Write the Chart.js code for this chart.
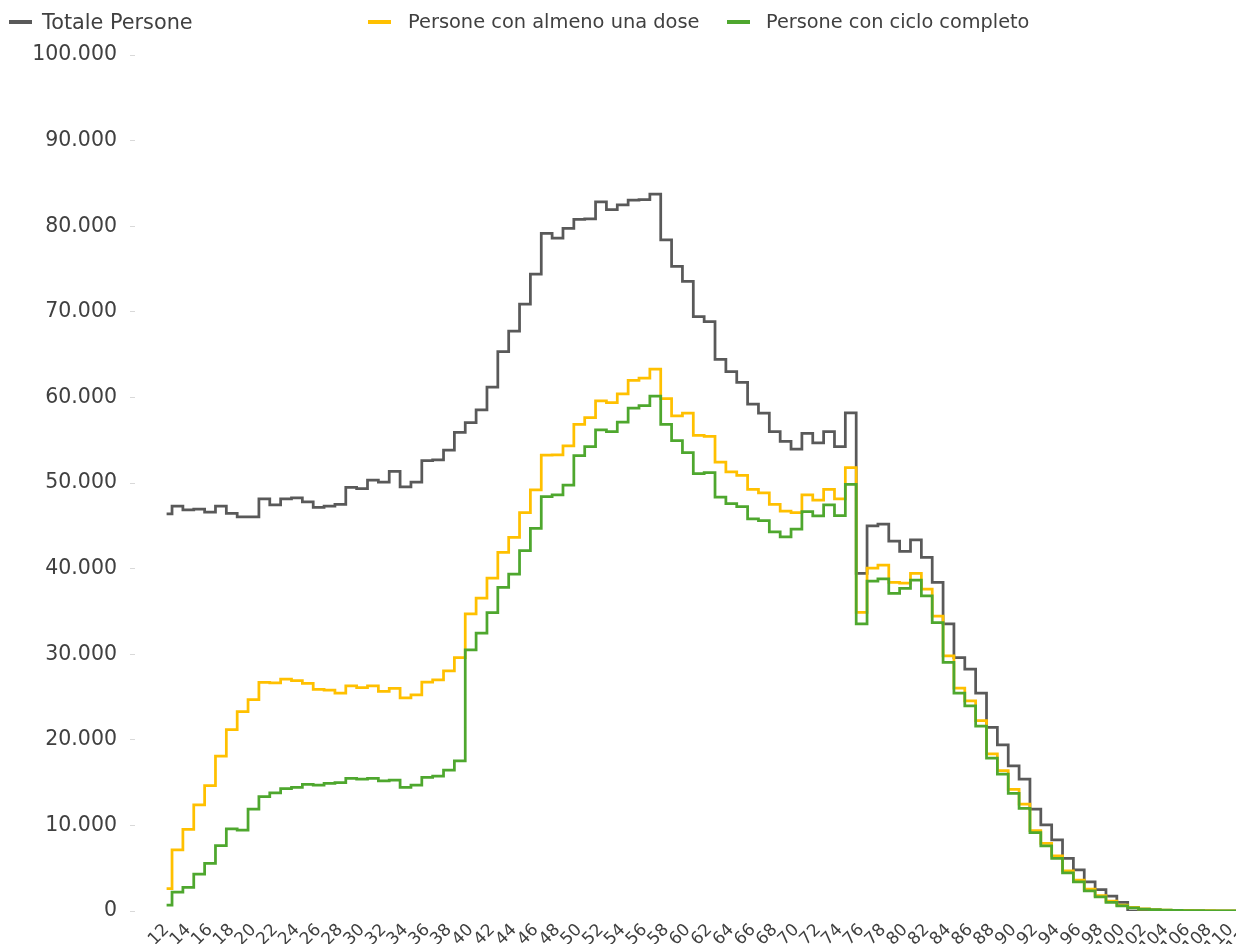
<!DOCTYPE html>
<html>
<head>
<meta charset="utf-8">
<script src="https://cdn.jsdelivr.net/npm/chart.js@4"></script>
<style>
  html, body { margin:0; padding:0; background:#fff; overflow:hidden; width:1236px; height:944px; }
  #wrap { position:absolute; left:0; top:0; width:1276px; height:1000px; }
  #legend { position:absolute; left:0; top:0; width:1236px; height:45px; font-family:'DejaVu Sans', sans-serif; font-size:20px; color:#404040; z-index:2; }
  .mk { position:absolute; top:20px; width:23px; height:4px; }
  .lt { position:absolute; top:10px; white-space:nowrap; line-height:24px; }
</style>
</head>
<body>
<div id="legend">
  <div class="mk" style="left:9px;background:#595959"></div><div class="lt" style="left:42px;font-size:20.8px">Totale Persone</div>
  <div class="mk" style="left:368px;background:#ffc000"></div><div class="lt" style="left:408px;font-size:19.4px">Persone con almeno una dose</div>
  <div class="mk" style="left:727px;background:#4ea72e"></div><div class="lt" style="left:766px;font-size:19.3px">Persone con ciclo completo</div>
</div>
<div id="wrap"><canvas id="c"></canvas></div>
<script>
const ages = [12,13,14,15,16,17,18,19,20,21,22,23,24,25,26,27,28,29,30,31,32,33,34,35,36,37,38,39,40,41,42,43,44,45,46,47,48,49,50,51,52,53,54,55,56,57,58,59,60,61,62,63,64,65,66,67,68,69,70,71,72,73,74,75,76,77,78,79,80,81,82,83,84,85,86,87,88,89,90,91,92,93,94,95,96,97,98,99,100,101,102,103,104,105,106,107,108,109,110,111,112];
const tickLabels = [12,14,16,18,20,22,24,26,28,30,32,34,36,38,40,42,44,46,48,50,52,54,56,58,60,62,64,66,68,70,72,74,76,78,80,82,84,86,88,90,92,94,96,98,100,102,104,106,108,110,112];
const totalePersone = [46400,47300,46850,46950,46600,47300,46450,46050,46050,48150,47450,48150,48250,47800,47150,47300,47500,49500,49350,50350,50100,51350,49550,50100,52600,52700,53850,55900,57050,58550,61200,65350,67750,70900,74400,79150,78600,79750,80800,80850,82850,81950,82500,83050,83100,83750,78400,75300,73550,69450,68850,64450,63000,61750,59200,58150,56000,54850,53950,55800,54700,56000,54250,58200,39450,45000,45200,43200,42000,43350,41300,38400,33550,29600,28250,25450,21450,19400,16950,15400,11900,10050,8300,6150,4800,3400,2500,1750,1000,0,0,0,0,0,0,0,0,0,0,0,0];
const almenoUnaDose = [2600,7150,9550,12400,14650,18100,21200,23300,24700,26700,26650,27100,26900,26600,25900,25800,25450,26300,26100,26300,25650,26000,24900,25250,26750,27000,28050,29600,34700,36550,38900,41900,43650,46550,49200,53250,53300,54350,56850,57650,59600,59400,60400,62000,62250,63300,59850,57850,58150,55550,55450,52450,51300,50900,49250,48850,47500,46700,46550,48600,48000,49250,48150,51800,34900,40050,40400,38400,38300,39450,37600,34450,29800,26050,24550,22250,18350,16400,14200,12500,9400,7900,6450,4700,3600,2550,1800,1150,700,420,260,170,110,80,60,40,30,20,15,10,5];
const cicloCompleto = [700,2200,2750,4300,5550,7650,9600,9450,11900,13350,13800,14300,14450,14800,14700,14900,15000,15500,15400,15500,15200,15300,14450,14700,15600,15750,16450,17550,30500,32450,34850,37800,39350,42100,44700,48400,48600,49750,53200,54250,56200,56000,57100,58750,59050,60150,56850,54950,53550,51100,51200,48350,47600,47250,45800,45600,44300,43700,44600,46650,46150,47450,46200,49850,33550,38550,38800,37100,37700,38650,36800,33700,29050,25450,23950,21600,17850,16000,13750,12000,9150,7600,6150,4450,3400,2350,1650,1000,600,360,220,150,100,70,50,35,25,15,10,5,5];
const seriesNames = ['Totale Persone','Persone con almeno una dose','Persone con ciclo completo'];
const seriesColors = ['#595959','#ffc000','#4ea72e'];

const toXY = arr => ages.map((a, i) => ({x: a, y: arr[i]}));
const fmt = v => String(v).replace(/\B(?=(\d{3})+(?!\d))/g, '.');
const FONT = "'DejaVu Sans', sans-serif";

const mk = (i, arr, order) => ({
  label: seriesNames[i], data: toXY(arr), borderColor: seriesColors[i], backgroundColor: seriesColors[i],
  borderWidth: 2.75, pointRadius: 0, stepped: 'middle', fill: false, order: order
});

new Chart(document.getElementById('c'), {
  type: 'line',
  data: { datasets: [ mk(0, totalePersone, 2), mk(1, almenoUnaDose, 1), mk(2, cicloCompleto, 0) ] },
  options: {
    responsive: true, maintainAspectRatio: false, animation: false,
    layout: { padding: { top: 55, left: 0, right: 8, bottom: 0 } },
    plugins: { legend: { display: false }, tooltip: { enabled: false } },
    scales: {
      x: {
        type: 'linear', min: 9.09, max: 112,
        grid: { display: false, drawTicks: false }, border: { display: false },
        afterBuildTicks: s => { s.ticks = tickLabels.map(v => ({ value: v })); },
        afterFit: s => { s.height = 89; },
        ticks: { autoSkip: false, minRotation: 45, maxRotation: 45, padding: 9, color: '#404040',
                 font: { family: FONT, size: 17 }, callback: v => String(v) }
      },
      y: {
        min: 0, max: 100000,
        grid: { display: true, drawOnChartArea: false, drawTicks: true, tickLength: 5, color: '#d9d9d9' },
        border: { display: false },
        afterFit: s => { s.width = 135; },
        ticks: { stepSize: 10000, padding: 13, color: '#404040', font: { family: FONT, size: 20.5 }, callback: v => fmt(v) }
      }
    }
  }
});
</script>
</body>
</html>
